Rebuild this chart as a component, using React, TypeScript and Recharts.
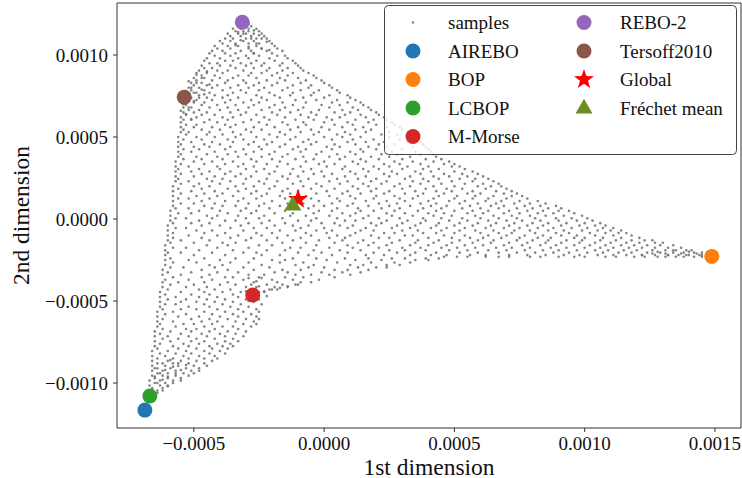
import React from 'react';
import { ScatterChart, Scatter, XAxis, YAxis, Label, ReferenceLine } from 'recharts';

// Sample cloud, values in units of 1e-5.
// Each row: [y, x1, x2, ...]
const SAMPLE_UNIT = 1e-5;
const sampleRows: number[][] = [
  [122, -31],
  [120.5, -32, -30],
  [119, -33, -30, -29],
  [117.5, -33, -31, -28],
  [116, -35, -32, -29, -26],
  [114.5, -34, -31, -29, -25],
  [113, -37, -33, -30, -27, -24],
  [111.5, -36, -32, -28, -23],
  [110, -38, -35, -30, -26, -22],
  [108.5, -40, -36, -31, -27, -21],
  [107, -39, -34, -29, -25, -20],
  [105.5, -42, -37, -33, -26, -19],
  [104, -41, -36, -29, -24, -18],
  [102.5, -43, -39, -32, -28, -22, -16],
  [101, -44, -38, -34, -27, -20],
  [99.5, -42, -36, -30, -25, -18, -15],
  [98, -45, -40, -33, -29, -21, -14],
  [96.5, -46, -38, -35, -26, -19, -12],
  [95, -44, -41, -32, -28, -23, -16, -11],
  [93.5, -47, -40, -36, -30, -24, -17, -10],
  [92, -46, -43, -34, -27, -21, -14, -9],
  [90.5, -48, -41, -37, -31, -22, -16, -8],
  [89, -49, -45, -39, -28, -24, -18, -12, -6],
  [87.5, -47, -42, -33, -29, -20, -14, -4],
  [86, -50, -46, -40, -35, -26, -17, -10, -3],
  [84.5, -49, -43, -37, -31, -22, -15, -7, -1],
  [83, -51, -47, -38, -30, -25, -18, -9, 0],
  [81.5, -50, -45, -41, -33, -27, -20, -12, -5, 2],
  [80, -52, -48, -43, -36, -29, -23, -14, -6, 3],
  [78.5, -51, -46, -39, -32, -25, -16, -9, -2, 5],
  [77, -53, -49, -44, -35, -30, -21, -12, -4, 6],
  [75.5, -52, -48, -42, -37, -26, -19, -13, -5, 2, 9],
  [74, -54, -51, -45, -39, -33, -24, -17, -8, 0, 10],
  [72.5, -53, -49, -43, -36, -28, -22, -11, -3, 5, 12],
  [71, -54, -50, -46, -38, -31, -25, -16, -7, 3, 9, 14],
  [69.5, -53, -47, -41, -34, -27, -19, -12, -1, 6, 15],
  [68, -54, -51, -44, -37, -29, -21, -15, -8, 2, 11, 17],
  [66.5, -52, -48, -40, -33, -24, -17, -10, -2, 7, 13, 18],
  [65, -54, -50, -45, -36, -30, -20, -13, -5, 4, 10, 20],
  [63.5, -53, -47, -42, -32, -26, -18, -9, -3, 8, 14, 21],
  [62, -55, -49, -39, -35, -23, -15, -6, 1, 6, 16, 23],
  [60.5, -54, -51, -44, -37, -28, -21, -11, -4, 3, 12, 19, 24],
  [59, -55, -46, -41, -31, -25, -16, -8, 0, 9, 17, 26],
  [57.5, -53, -49, -38, -34, -22, -14, -7, 4, 11, 20, 27],
  [56, -55, -50, -43, -36, -27, -19, -10, -1, 7, 15, 24, 29],
  [54.5, -54, -47, -40, -30, -24, -13, -5, 2, 12, 18, 30],
  [53, -55, -52, -44, -35, -28, -17, -9, -2, 8, 16, 25, 32],
  [51.5, -53, -45, -39, -32, -21, -15, -4, 5, 10, 22, 28, 33],
  [50, -56, -49, -42, -34, -26, -18, -11, 0, 7, 14, 25, 35],
  [48.5, -54, -47, -37, -31, -23, -13, -6, 3, 11, 19, 29, 36],
  [47, -56, -51, -43, -35, -27, -20, -8, -3, 9, 16, 23, 32, 37],
  [45.5, -55, -46, -40, -29, -22, -15, -5, 4, 12, 21, 27, 38],
  [44, -56, -50, -44, -36, -25, -17, -10, 1, 6, 17, 24, 34, 39],
  [42.5, -54, -48, -38, -31, -24, -12, -7, 3, 14, 20, 30, 40],
  [41, -56, -51, -42, -34, -27, -19, -9, -1, 10, 15, 26, 35, 41],
  [39.5, -55, -45, -37, -30, -21, -14, -3, 5, 12, 22, 28, 37, 42],
  [38, -56, -49, -41, -33, -24, -16, -8, 2, 8, 18, 25, 33, 43],
  [36.5, -54, -47, -39, -28, -20, -11, -4, 6, 14, 21, 30, 39, 45],
  [35, -57, -50, -43, -35, -26, -17, -7, 0, 11, 16, 27, 34, 42, 48],
  [33.5, -55, -46, -38, -31, -22, -14, -2, 4, 13, 23, 29, 37, 46, 50],
  [32, -57, -52, -41, -33, -27, -18, -9, 1, 8, 19, 25, 32, 40, 49, 52],
  [30.5, -56, -48, -40, -30, -23, -12, -5, 7, 15, 21, 30, 38, 44, 54],
  [29, -57, -51, -44, -36, -26, -19, -8, -1, 10, 17, 26, 35, 41, 50, 57],
  [27.5, -55, -47, -38, -32, -21, -13, -4, 3, 12, 23, 28, 37, 46, 53, 59],
  [26, -57, -50, -42, -34, -28, -16, -10, 0, 8, 16, 25, 33, 42, 48, 55, 61],
  [24.5, -56, -45, -39, -30, -22, -14, -6, 5, 13, 20, 31, 38, 44, 52, 58, 63],
  [23, -57, -52, -43, -36, -25, -18, -9, 2, 9, 18, 24, 34, 40, 49, 57, 65],
  [21.5, -55, -48, -40, -31, -23, -12, -3, 6, 15, 22, 29, 37, 45, 54, 61, 67],
  [20, -58, -50, -44, -34, -27, -19, -8, -1, 11, 17, 27, 33, 42, 50, 59, 64, 68],
  [18.5, -56, -47, -37, -30, -21, -14, -5, 4, 13, 20, 30, 39, 47, 53, 62, 70],
  [17, -58, -51, -42, -33, -26, -16, -10, 1, 9, 18, 25, 35, 43, 49, 57, 66, 72],
  [15.5, -55, -46, -39, -28, -22, -13, -3, 7, 14, 23, 31, 38, 46, 55, 60, 69, 74],
  [14, -58, -49, -41, -35, -24, -17, -7, 2, 10, 20, 27, 36, 44, 51, 58, 65, 72, 76],
  [12.5, -56, -52, -44, -31, -26, -15, -5, 5, 12, 19, 29, 34, 42, 50, 57, 63, 70, 78],
  [11, -58, -47, -38, -33, -20, -12, -2, 6, 16, 24, 31, 40, 48, 54, 62, 68, 75, 82],
  [9.5, -55, -50, -42, -29, -23, -14, -8, 3, 11, 21, 28, 37, 43, 52, 59, 66, 73, 79, 85],
  [8, -58, -46, -39, -34, -25, -17, -4, 0, 9, 17, 25, 33, 41, 47, 56, 64, 69, 77, 83, 89],
  [6.5, -57, -52, -43, -30, -21, -11, -6, 5, 13, 22, 29, 38, 45, 53, 60, 67, 74, 80, 86, 91],
  [5, -59, -48, -40, -32, -26, -15, -2, 3, 14, 19, 27, 36, 43, 50, 57, 63, 71, 78, 84, 90, 94],
  [3.5, -56, -51, -37, -28, -19, -12, -4, 7, 12, 24, 31, 40, 46, 55, 61, 69, 75, 82, 88, 96],
  [2, -59, -45, -41, -33, -23, -13, -7, 2, 10, 17, 26, 34, 42, 49, 58, 65, 72, 79, 85, 92, 99],
  [0.5, -57, -53, -43, -30, -25, -16, -3, 5, 15, 21, 29, 38, 45, 53, 60, 67, 74, 81, 89, 95, 101],
  [-1, -59, -48, -38, -34, -21, -10, -5, 8, 12, 24, 32, 39, 48, 55, 63, 70, 76, 83, 90, 97, 103],
  [-2.5, -58, -51, -44, -29, -24, -15, -1, 4, 18, 22, 30, 37, 44, 52, 59, 66, 73, 80, 86, 93, 100, 106],
  [-4, -60, -47, -40, -32, -19, -12, -6, 6, 11, 20, 28, 35, 43, 50, 57, 64, 71, 78, 84, 91, 98, 104, 108],
  [-5.5, -57, -53, -36, -27, -22, -9, 0, 9, 16, 26, 33, 41, 47, 54, 62, 69, 75, 82, 88, 95, 101, 107, 111],
  [-7, -60, -49, -43, -31, -17, -11, -3, 3, 14, 19, 30, 36, 45, 52, 58, 65, 73, 79, 86, 92, 99, 105, 110, 114],
  [-8.5, -58, -46, -38, -26, -20, -7, 1, 12, 23, 27, 38, 43, 50, 60, 67, 72, 81, 89, 94, 102, 108, 113, 116],
  [-10, -60, -52, -41, -33, -24, -14, -5, 5, 10, 18, 31, 34, 46, 54, 63, 70, 77, 84, 91, 97, 104, 111, 118],
  [-11.5, -58, -47, -36, -28, -18, -9, 2, 8, 21, 25, 40, 49, 56, 61, 68, 75, 82, 87, 96, 100, 107, 114, 121],
  [-13, -60, -55, -44, -30, -22, -12, -2, 7, 15, 29, 36, 44, 52, 59, 65, 74, 80, 86, 93, 99, 106, 112, 118, 123, 126],
  [-14.5, -59, -50, -39, -34, -16, -7, 4, 13, 19, 26, 35, 42, 49, 57, 64, 71, 78, 85, 91, 98, 104, 110, 116, 121, 127, 130],
  [-16, -61, -45, -37, -25, -20, -3, 9, 17, 24, 33, 40, 47, 54, 61, 69, 76, 83, 89, 96, 102, 108, 114, 119, 124, 129, 134],
  [-17.5, -58, -53, -41, -29, -13, -9, 2, 11, 21, 30, 37, 45, 51, 58, 66, 72, 79, 87, 93, 100, 106, 111, 117, 122, 127, 132, 137],
  [-19, -61, -48, -35, -22, -15, -4, 6, 14, 25, 31, 39, 48, 55, 63, 70, 77, 84, 90, 97, 104, 109, 115, 120, 126, 131, 135, 139, 141],
  [-20.5, -60, -55, -43, -31, -26, -10, -1, 9, 19, 28, 35, 43, 52, 59, 67, 74, 81, 88, 94, 101, 107, 113, 118, 124, 129, 134, 138, 142, 145],
  [-22, -61, -50, -38, -24, -17, -6, 3, 16, 23, 33, 41, 47, 56, 62, 71, 78, 85, 92, 98, 105, 111, 116, 122, 127, 132, 136, 140, 144, 147],
  [-23, 46, 51, 55, 62, 67, 71, 79, 83, 90, 96, 100, 108, 112, 119, 123, 128, 131, 135, 138, 142, 145, 148],
  [-24, -59, -46, -34, -27, -12, -3, 8, 17, 26, 31, 39, 44],
  [-25, -61, -52, -40, -20, -15, 1, 12, 22, 35, 40],
  [-26.5, -58, -49, -36, -29, -17, -8, 5, 18, 27, 33],
  [-28, -61, -44, -39, -24, -11, -4, 10, 15, 24, 29],
  [-29.5, -59, -54, -42, -31, -21, -6, 0, 13, 20, 24],
  [-31, -62, -47, -37, -27, -16, -9, 4, 9, 17],
  [-32.5, -60, -51, -41, -33, -19, -14, -1, 7, 14],
  [-34, -62, -55, -44, -29, -23, -11, -5, 2, 10],
  [-35.5, -58, -47, -38, -35, -25, -15, -8, 4],
  [-37, -61, -52, -43, -31, -20, -12, -2],
  [-38.5, -62, -56, -46, -37, -27, -18, -9, -5],
  [-40, -59, -50, -40, -34, -22, -16, -10],
  [-41.5, -62, -53, -45, -30, -26, -19, -14],
  [-43, -60, -48, -42, -36, -28, -21, -18],
  [-44.5, -63, -55, -46, -39, -32, -25, -23],
  [-46, -61, -51, -44, -35, -29],
  [-47.5, -63, -57, -48, -41, -33, -26],
  [-49, -60, -53, -45, -38, -30, -25],
  [-50.5, -63, -55, -49, -42, -35, -27],
  [-52, -61, -57, -46, -39, -32, -24],
  [-53.5, -63, -52, -44, -36, -29],
  [-55, -62, -55, -49, -41, -33, -26],
  [-56.5, -64, -58, -46, -38, -31, -25],
  [-58, -61, -53, -43, -35, -28],
  [-59.5, -64, -56, -48, -40, -33, -26],
  [-61, -62, -51, -44, -37, -30, -25],
  [-62.5, -64, -58, -47, -41, -34, -27],
  [-64, -63, -54, -50, -43, -31, -26],
  [-65.5, -64, -57, -46, -39, -35, -28],
  [-67, -62, -53, -49, -42, -33],
  [-68.5, -65, -59, -51, -44, -37, -30],
  [-70, -63, -55, -47, -40, -34],
  [-71.5, -65, -60, -52, -45, -38, -31],
  [-73, -62, -56, -49, -42, -35],
  [-74.5, -65, -59, -51, -46, -38, -33],
  [-76, -63, -54, -48, -41, -36],
  [-77.5, -65, -58, -52, -44, -39, -35],
  [-79, -64, -56, -49, -43, -37],
  [-80.5, -66, -60, -53, -46, -40],
  [-82, -63, -57, -51, -44, -38],
  [-83.5, -66, -61, -54, -48, -42],
  [-85, -64, -58, -52, -46, -41],
  [-86.5, -66, -60, -55, -49, -43],
  [-88, -64, -58, -52, -46],
  [-89.5, -66, -61, -56, -50, -45],
  [-91, -65, -59, -53, -48],
  [-92.5, -66, -62, -57, -51, -48],
  [-94, -64, -60, -54, -50],
  [-95.5, -66, -62, -57, -52],
  [-97, -65, -60, -55],
  [-98.5, -67, -63, -58, -55],
  [-100, -65, -61, -58],
  [-101.5, -67, -63, -60],
  [-103, -66, -62],
  [-104.5, -67, -64, -62],
  [-106, -66, -64],
  [-107.5, -67, -65],
  [-109, -67, -66],
];

// Denser clusters near the vertices, [x, y] in units of 1e-5
const sampleExtras: number[][] = [
  [-30, 117], [-27, 115], [-25, 112], [-28, 110], [-32, 109], [-26, 107], [-22, 108], [-29, 105],
  [-24, 104], [-34, 106], [-21, 103], [-27, 101], [-33, 114], [-29, 119], [-24, 110], [-31, 113],
  [-53, 78], [-51, 80], [-49, 83], [-52, 84], [-50, 77], [-47, 79], [-54, 70], [-52, 68], [-50, 72],
  [-48, 74], [-46, 76], [-53, 64], [-51, 61], [-55, 66], [-49, 88], [-47, 86], [-45, 90], [-44, 82],
  [-66, -104], [-64, -100], [-62, -98], [-65, -96], [-63, -94], [-61, -92], [-60, -96], [-58, -90],
  [-62, -88], [-59, -86], [-57, -94], [-56, -88], [-64, -91], [-60, -102], [-55, -92], [-53, -89],
  [-28, -40], [-26, -38], [-29, -36], [-27, -43], [-25, -41], [-23, -44], [-20, -43], [-17, -42],
  [-14, -41], [-11, -40], [-24, -36], [-30, -44], [-26, -48], [-29, -50], [-22, -47],
  [128, -20], [131, -21], [134, -19], [137, -21], [140, -20], [143, -21], [145, -22], [132, -22],
  [126, -21], [139, -22], [147, -22], [122, -22],
];

const methodNames = ['AIREBO', 'BOP', 'LCBOP', 'M-Morse', 'REBO-2', 'Tersoff2010'];
const methodX = [-0.000688, 0.001488, -0.000669, -0.000274, -0.000314, -0.000537];
const methodY = [-0.001165, -0.000228, -0.001079, -0.000463, 0.0012, 0.000743];
const methodColors = ['#1f77b4', '#ff7f0e', '#2ca02c', '#d62728', '#9467bd', '#8c564b'];

const globalPoint = [{ x: -0.0001, y: 0.00012 }];
const frechetPoint = [{ x: -0.00012, y: 0.000085 }];

const xTicks = [-0.0005, 0, 0.0005, 0.001, 0.0015];
const yTicks = [-0.001, -0.0005, 0, 0.0005, 0.001];
const xDomain = [-0.000795, 0.0016];
const yDomain = [-0.001274, 0.001317];

const samples: { x: number; y: number }[] = [];
sampleRows.forEach((row) => {
  for (let i = 1; i < row.length; i++) samples.push({ x: row[i] * SAMPLE_UNIT, y: row[0] * SAMPLE_UNIT });
});
sampleExtras.forEach(([x, y]) => samples.push({ x: x * SAMPLE_UNIT, y: y * SAMPLE_UNIT }));

const FONT = '"Liberation Serif", "Times New Roman", serif';
const AXIS = '#333';

const fmt = (v: number) => (v < 0 ? '\u2212' : '') + Math.abs(v).toFixed(4);

const dot = (color: string, r: number, opacity = 1) => (p: any) => (
  <circle cx={p.cx} cy={p.cy} r={r} fill={color} fillOpacity={opacity} />
);

const starPath = (cx: number, cy: number, R: number, r: number) => {
  const pts: string[] = [];
  for (let i = 0; i < 10; i++) {
    const a = -Math.PI / 2 + (i * Math.PI) / 5;
    const rr = i % 2 === 0 ? R : r;
    pts.push(`${cx + rr * Math.cos(a)},${cy + rr * Math.sin(a)}`);
  }
  return pts.join(' ');
};
const triPath = (cx: number, cy: number, s: number) =>
  `${cx},${cy - s * 1.1} ${cx - s},${cy + s * 0.65} ${cx + s},${cy + s * 0.65}`;

const StarShape = (p: any) => <polygon points={starPath(p.cx, p.cy, 10.5, 4.2)} fill="#ff0000" />;
const TriShape = (p: any) => <polygon points={triPath(p.cx, p.cy, 8.5)} fill="#6b8e23" />;

const legendCol1 = [
  { label: 'samples', kind: 'sample', color: '#7f7f7f' },
  { label: 'AIREBO', kind: 'circle', color: '#1f77b4' },
  { label: 'BOP', kind: 'circle', color: '#ff7f0e' },
  { label: 'LCBOP', kind: 'circle', color: '#2ca02c' },
  { label: 'M-Morse', kind: 'circle', color: '#d62728' },
];
const legendCol2 = [
  { label: 'REBO-2', kind: 'circle', color: '#9467bd' },
  { label: 'Tersoff2010', kind: 'circle', color: '#8c564b' },
  { label: 'Global', kind: 'star', color: '#ff0000' },
  { label: 'Fr\u00e9chet mean', kind: 'tri', color: '#6b8e23' },
];

const LegendMarker = ({ kind, color, cx, cy }: any) => {
  if (kind === 'sample') return <circle cx={cx} cy={cy} r={1.2} fill={color} />;
  if (kind === 'star') return <polygon points={starPath(cx, cy, 10.5, 4.2)} fill={color} />;
  if (kind === 'tri') return <polygon points={triPath(cx, cy, 8.5)} fill={color} />;
  return <circle cx={cx} cy={cy} r={7.5} fill={color} />;
};

const rowY = [22.5, 51, 79.5, 108, 136.5];

export default function App() {
  return (
    <div style={{ position: 'absolute', left: 0, top: 0, width: 742, height: 478, background: '#fff' }}>
      <ScatterChart width={742} height={478} margin={{ top: 3, right: 1, left: 0, bottom: 0 }}>
        <XAxis
          type="number"
          dataKey="x"
          domain={xDomain}
          ticks={xTicks}
          allowDataOverflow
          tickFormatter={fmt}
          height={50}
          tickSize={4}
          tickMargin={5}
          stroke={AXIS}
          tick={{ fill: '#111', fontSize: 19, fontFamily: FONT }}
          interval={0}
        >
          <Label
            content={(props: any) => {
              const vb = props.viewBox;
              return (
                <text x={vb.x + vb.width / 2} y={474.5} textAnchor="middle" fontSize={23.5} fontFamily={FONT} fill="#111">
                  1st dimension
                </text>
              );
            }}
          />
        </XAxis>
        <YAxis
          type="number"
          dataKey="y"
          domain={yDomain}
          ticks={yTicks}
          allowDataOverflow
          tickFormatter={fmt}
          width={117}
          tickSize={4}
          tickMargin={5}
          stroke={AXIS}
          tick={{ fill: '#111', fontSize: 19, fontFamily: FONT }}
          interval={0}
        >
          <Label
            content={() => (
              <text
                x={29}
                y={215.5}
                transform="rotate(-90, 29, 215.5)"
                textAnchor="middle"
                fontSize={23.5}
                fontFamily={FONT}
                fill="#111"
              >
                2nd dimension
              </text>
            )}
          />
        </YAxis>
        <ReferenceLine y={yDomain[1]} stroke={AXIS} strokeWidth={1} ifOverflow="extendDomain" />
        <ReferenceLine x={xDomain[1]} stroke={AXIS} strokeWidth={1} ifOverflow="extendDomain" />
        <Scatter name="samples" data={samples} shape={dot('#6e6e6e', 1.3, 0.85)} isAnimationActive={false} />
        {methodNames.map((n, i) => (
          <Scatter
            key={n}
            name={n}
            data={[{ x: methodX[i], y: methodY[i] }]}
            shape={dot(methodColors[i], 7.5)}
            isAnimationActive={false}
          />
        ))}
        <Scatter name="Global" data={globalPoint} shape={StarShape} isAnimationActive={false} />
        <Scatter name="Fréchet mean" data={frechetPoint} shape={TriShape} isAnimationActive={false} />
      </ScatterChart>
      <svg width={742} height={478} style={{ position: 'absolute', left: 0, top: 0, pointerEvents: 'none' }}>
        <rect x={384.5} y={5.5} width={352} height={149} rx={4} ry={4} fill="#fff" fillOpacity={0.8} stroke="#444" strokeWidth={1} />
        {legendCol1.map((e, i) => (
          <g key={e.label}>
            <LegendMarker kind={e.kind} color={e.color} cx={413} cy={rowY[i]} />
            <text x={448} y={rowY[i] + 6.5} fontSize={19} fontFamily={FONT} fill="#111">
              {e.label}
            </text>
          </g>
        ))}
        {legendCol2.map((e, i) => (
          <g key={e.label}>
            <LegendMarker kind={e.kind} color={e.color} cx={584} cy={rowY[i]} />
            <text x={620} y={rowY[i] + 6.5} fontSize={19} fontFamily={FONT} fill="#111">
              {e.label}
            </text>
          </g>
        ))}
      </svg>
    </div>
  );
}
